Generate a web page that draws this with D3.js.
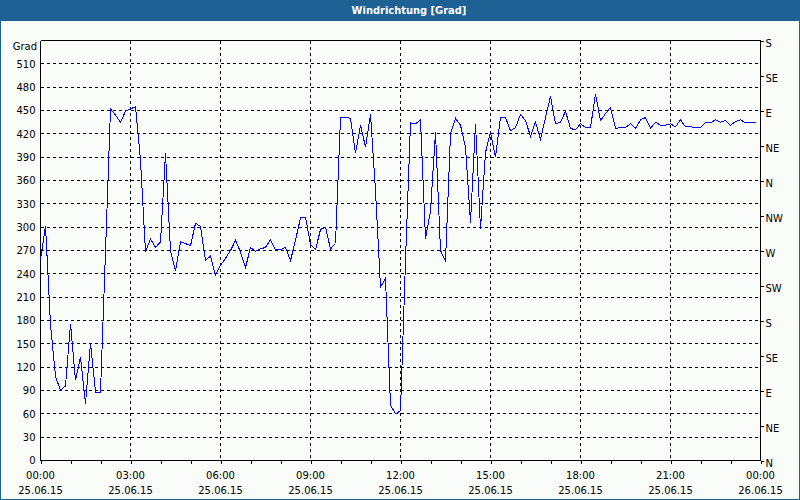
<!DOCTYPE html>
<html><head><meta charset="utf-8">
<script src="https://cdn.jsdelivr.net/npm/d3@7"></script>
<style>
html,body{margin:0;padding:0;background:#fff;}
svg{display:block;}
text{font-family:"DejaVu Sans",Verdana,sans-serif;font-size:10px;fill:#000;}
</style></head>
<body>
<svg id="chart" width="800" height="500"></svg>
<script>
// ---- data ----
const titleText = "Windrichtung [Grad]";
const yUnit = "Grad";
const startTime = new Date(2015, 5, 25, 0, 0);
const endTime = new Date(2015, 5, 26, 0, 0);
const stepMinutes = 10;
const windDir = [
 258,302,175,108,90,96,176,103,133,73,151,88,88,268,452,444,435,449,452,455,
 386,268,285,274,281,395,270,244,281,279,276,305,301,257,263,238,251,260,270,283,
 268,248,274,269,272,274,284,271,271,274,257,283,312,313,278,271,297,300,272,279,
 441,441,440,395,431,403,445,347,223,234,71,60,64,257,434,433,438,285,321,422,
 270,256,420,440,431,403,306,433,298,396,422,390,441,441,424,428,445,437,417,435,
 413,441,468,433,435,449,427,425,433,428,428,471,437,446,454,427,428,428,433,427,
 438,441,427,435,431,431,433,429,438,429,429,428,428,435,434,438,435,437,431,436,
 438,434,434,434
];
const yTicks = [0,30,60,90,120,150,180,210,240,270,300,330,360,390,420,450,480,510];
const compassTicks = [0,45,90,135,180,225,270,315,360,405,450,495,540];
const compassLabels = ["N","NE","E","SE","S","SW","W","NW","N","NE","E","SE","S"];
const xTickTimes = ["00:00","03:00","06:00","09:00","12:00","15:00","18:00","21:00","00:00"];
const xTickDates = ["25.06.15","25.06.15","25.06.15","25.06.15","25.06.15","25.06.15","25.06.15","25.06.15","26.06.15"];

// ---- drawing ----
const W = 800, H = 500;
const svg = d3.select("#chart");
const blue = "#1e6194";
svg.append("rect").attr("x",0).attr("y",0).attr("width",W).attr("height",H).attr("fill",blue);
svg.append("rect").attr("x",1).attr("y",21).attr("width",W-2).attr("height",H-22).attr("fill","#f9fcf9");
svg.append("text").attr("x",409).attr("y",10.5).attr("text-anchor","middle")
  .attr("dominant-baseline","central")
  .style("font-family","'DejaVu Sans Condensed','DejaVu Sans',sans-serif")
  .style("font-weight","bold").style("font-size","11px").style("fill","#fff").text(titleText);

const x = d3.scaleTime().domain([startTime, endTime]).range([40.5, 760.5]);
const y = d3.scaleLinear().domain([0, 540]).range([460.5, 40.5]);

const g = svg.append("g");
// horizontal grid
g.selectAll(".hg").data(yTicks.filter(v => v > 0)).join("line")
  .attr("x1", 41).attr("x2", 760).attr("y1", d => y(d)).attr("y2", d => y(d))
  .attr("stroke","#000").attr("stroke-dasharray","3,3").attr("shape-rendering","crispEdges");
// vertical grid
const majorTimes = d3.timeHour.every(3).range(startTime, d3.timeHour.offset(endTime, 1));
g.selectAll(".vg").data(majorTimes.slice(1, -1)).join("line")
  .attr("x1", d => x(d)).attr("x2", d => x(d)).attr("y1", 41).attr("y2", 460)
  .attr("stroke","#000").attr("stroke-dasharray","3,3").attr("shape-rendering","crispEdges");

// frame
g.append("path").attr("d", `M${x(startTime)},${y(540)}H${x(endTime)}`)
  .attr("stroke","#000").attr("fill","none").attr("shape-rendering","crispEdges");

// left axis
const yAxisL = d3.axisLeft(y).tickValues(yTicks).tickSize(0).tickPadding(5);
const gl = svg.append("g").attr("transform", `translate(${x(startTime)},0)`).call(yAxisL);
gl.select(".domain").attr("d", `M0,${y(0)}V${y(540)}`).attr("shape-rendering","crispEdges");
gl.selectAll("text").style("font-family","'DejaVu Sans',sans-serif").style("font-size","10px");

// right axis
const yAxisR = d3.axisRight(y).tickValues(compassTicks)
  .tickFormat((d, i) => compassLabels[i]).tickSize(3).tickPadding(2);
const gr = svg.append("g").attr("transform", `translate(${x(endTime)},0)`).call(yAxisR);
gr.select(".domain").attr("d", `M0,${y(0)}V${y(540)}`).attr("shape-rendering","crispEdges");
gr.selectAll("line").attr("shape-rendering","crispEdges");
gr.selectAll("text").attr("dy","0.55em").style("font-size","10px");

// bottom axis
const xAxis = d3.axisBottom(x).ticks(d3.timeHour.every(1)).tickSize(3).tickFormat("");
const gb = svg.append("g").attr("transform", `translate(0,${y(0)})`).call(xAxis);
gb.select(".domain").attr("d", `M${x(startTime)},0H${x(endTime)}`).attr("shape-rendering","crispEdges");
gb.selectAll("line").attr("shape-rendering","crispEdges");
svg.append("g").selectAll("text.t").data(majorTimes.slice(0, 9)).join("text")
  .attr("x", d => x(d)).attr("y", 475.5).attr("text-anchor","middle").attr("dominant-baseline","central")
  .text((d, i) => xTickTimes[i]);
svg.append("g").selectAll("text.d").data(majorTimes.slice(0, 9)).join("text")
  .attr("x", d => x(d)).attr("y", 490.5).attr("text-anchor","middle").attr("dominant-baseline","central")
  .text((d, i) => xTickDates[i]);

// unit label
svg.append("text").attr("x", 37).attr("y", 46).attr("text-anchor","end")
  .attr("dominant-baseline","central").text(yUnit);

// data line
const pts = windDir.map((v, i) => ({t: d3.timeMinute.offset(startTime, i * stepMinutes), v}));
svg.append("path").datum(pts)
  .attr("d", d3.line().x(d => x(d.t)).y(d => y(d.v)))
  .attr("fill","none").attr("stroke","#0000ff").attr("stroke-width",1)
  .attr("shape-rendering","crispEdges");
</script>
</body></html>
